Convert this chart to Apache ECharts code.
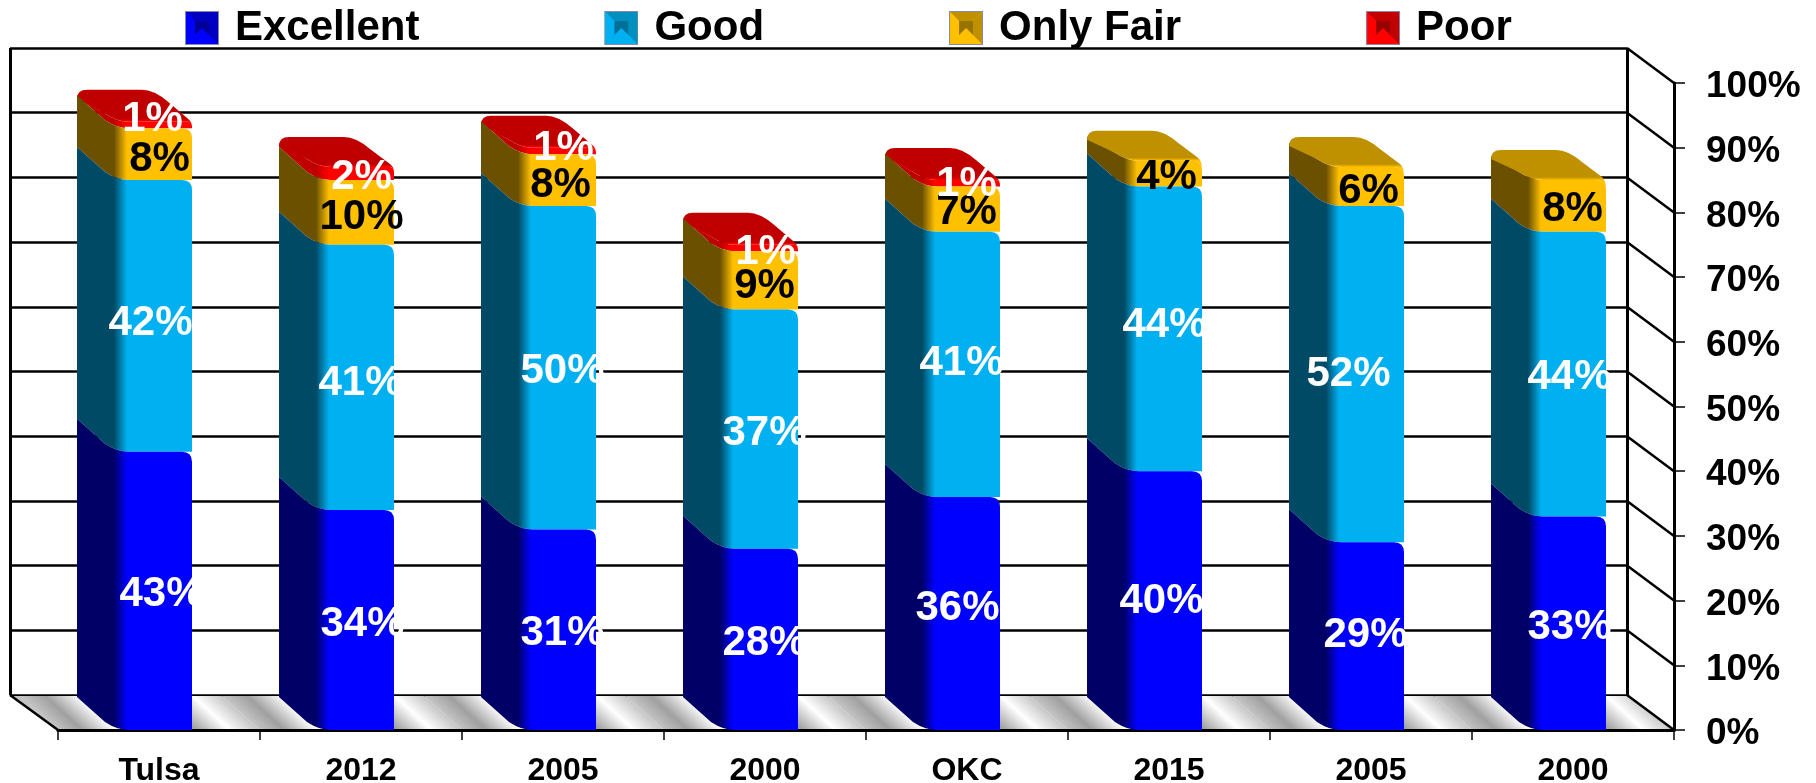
<!DOCTYPE html>
<html>
<head>
<meta charset="utf-8">
<title>Ratings</title>
<style>
  html, body { margin: 0; padding: 0; background: #fff; }
  #chart { width: 1816px; height: 783px; }
</style>
<script src="https://cdn.jsdelivr.net/npm/echarts@6/dist/echarts.min.js"></script>
</head>
<body>
<div id="chart"></div>
<script>
var categories = ["Tulsa", "2012", "2005", "2000", "OKC", "2015", "2005", "2000"];
var excellent = [43, 34, 31, 28, 36, 40, 29, 33];
var good = [42, 41, 50, 37, 41, 44, 52, 44];
var onlyFair = [8, 10, 8, 9, 7, 4, 6, 8];
var poor = [1, 2, 1, 1, 1, 0, 0, 0];
var yTicks = [0, 10, 20, 30, 40, 50, 60, 70, 80, 90, 100];

var names = ["Excellent", "Good", "Only Fair", "Poor"];
var values = [excellent, good, onlyFair, poor];

// side, front, top cap, middle of the legend square
var colors = [
  { side: "#000066", front: "#0000ff", cap: "#0000c0", mid: "#000099" },
  { side: "#004a66", front: "#00b0f0", cap: "#0090c0", mid: "#007099" },
  { side: "#6b5000", front: "#ffc000", cap: "#bf9000", mid: "#997300" },
  { side: "#c00000", front: "#ff0000", cap: "#c00000", mid: "#990000" }
];
var labelColors = ["#fff", "#fff", "#000", "#fff"];

// hand placed label nudges, the original labels are not centred
var labelDx = [
  [8, 7, 5, 5, -4, -2, 0, 2],
  [-3, 5, 5, 5, 0, 1, -17, 2],
  [6, 6, 3, 5, 5, 3, 3, 5],
  [-1, 6, 6, 6, 5, 0, 0, 0]
];
var labelDy = [
  [4, 4, 4, 4, -5, 1, -1, 4],
  [8, 6, 4, 4, -1, -3, 0, 3],
  [5, 5, 5, 6, 3, 4, 5, 3],
  [-6, 4, -3, 4, 1, 0, 0, 0]
];

// depth of the fake 3d box
var depthX = 47, depthY = 35;
var barDX = 38, barDY = 33;
var frontL = -44, frontR = 33;

var FONT = '"Liberation Sans", Arial, sans-serif';

function legendIcon(c) {
  var svg = '<svg xmlns="http://www.w3.org/2000/svg" width="34" height="34">' +
    '<rect width="34" height="34" fill="' + c.front + '"/>' +
    '<polygon points="0,0 34,0 24,10 10,10" fill="' + c.cap + '"/>' +
    '<polygon points="0,0 10,10 10,24 0,34" fill="' + c.front + '"/>' +
    '<polygon points="34,0 34,34 24,24 24,10" fill="' + c.cap + '"/>' +
    '<rect x="10" y="10" width="14" height="14" fill="' + c.mid + '"/>' +
    '<polygon points="10,24 24,24 17,17" fill="' + c.front + '"/>' +
    '<rect x="0.5" y="0.5" width="33" height="33" fill="none" stroke="#8888aa"/>' +
    '</svg>';
  return "image://data:image/svg+xml;charset=utf-8," + encodeURIComponent(svg);
}

// top edge of a segment seen from the front: side diagonal, soft corner, flat front
function contour(x0, x1, y, rounded, r) {
  var d = "M" + (x0 - barDX) + " " + (y - barDY + (rounded ? 9 : 0));
  d += "L" + (x0 - 10) + " " + (y - 8);
  d += "Q" + (x0 + 2) + " " + y + " " + (x0 + 14) + " " + y;
  d += "L" + (x1 - r) + " " + y;
  d += "Q" + x1 + " " + y + " " + x1 + " " + (y + r);
  return d;
}

function renderSegment(params, api) {
  var i = api.value(0);
  var lo = api.value(1);
  var hi = api.value(2);
  var isTop = api.value(3);
  var c = colors[params.seriesIndex - 1];
  var cx = api.coord([i, 0])[0];
  var x0 = cx + frontL;
  var x1 = cx + frontR;
  var yLo = api.coord([i, lo])[1];
  var yHi = api.coord([i, hi])[1];
  var w = x1 - x0 + barDX;
  var r = hi - lo > 2 ? 10 : 5;

  var fill = new echarts.graphic.LinearGradient(x0 - barDX, 0, x1, 0, [
    { offset: 0, color: c.side },
    { offset: (barDX - 1) / w, color: c.side },
    { offset: (barDX + 12) / w, color: c.front },
    { offset: 1, color: c.front }
  ], true);

  var body = contour(x0, x1, yHi, isTop, r);
  body += "L" + x1 + " " + yLo + "L" + (x0 + 14) + " " + yLo;
  body += "Q" + (x0 + 2) + " " + yLo + " " + (x0 - 10) + " " + (yLo - 8);
  body += "L" + (x0 - barDX) + " " + (yLo - barDY) + "Z";

  var children = [{ type: "path", shape: { pathData: body }, style: { fill: fill } }];

  if (isTop) {
    // caps of the taller top segments sit a little lower in the original
    var top = yHi - barDY + (hi - lo > 1 ? 3 : 1);
    var cap = "M" + (x0 - barDX) + " " + (top + 9);
    cap += "Q" + (x0 - barDX) + " " + top + " " + (x0 - barDX + 10) + " " + top;
    cap += "L" + (x1 - barDX - 12) + " " + top;
    cap += "Q" + (x1 - barDX) + " " + top + " " + (x1 - barDX + 14) + " " + (top + 12);
    cap += "L" + (x1 - 4) + " " + (yHi - 3);
    cap += "Q" + x1 + " " + yHi + " " + x1 + " " + (yHi + r);
    cap += "Q" + x1 + " " + yHi + " " + (x1 - r) + " " + yHi;
    cap += "L" + (x0 + 14) + " " + yHi;
    cap += "Q" + (x0 + 2) + " " + yHi + " " + (x0 - 10) + " " + (yHi - 8);
    cap += "Z";
    children.push({
      type: "path",
      shape: { pathData: cap },
      style: {
        fill: new echarts.graphic.LinearGradient(0, top, 0, yHi, [
          { offset: 0, color: c.cap },
          { offset: 0.9, color: c.cap },
          { offset: 1, color: c.front }
        ], true)
      }
    });
  }
  return { type: "group", children: children };
}

function renderFloor(params, api) {
  var i = api.value(0);
  var rect = params.coordSys;
  var step = rect.width / categories.length;
  var xs = rect.x + step * i;
  var y1 = rect.y + rect.height;
  var y0 = y1 - depthY + 1;
  var topL = i === 0 ? xs - depthX : xs - 38;
  var topR = i === categories.length - 1 ? xs + step - depthX : xs + step - 38;
  return {
    type: "polygon",
    shape: { points: [[xs, y1], [xs + step, y1], [topR, y0], [topL, y0]] },
    style: {
      fill: new echarts.graphic.LinearGradient(xs, y1, xs + step * 0.459, y1 - step * 0.4985, [
        { offset: 0, color: "#c4c4c4" },
        { offset: 0.12, color: "#a0a0a0" },
        { offset: 0.29, color: "#ffffff" },
        { offset: 0.55, color: "#ffffff" },
        { offset: 0.68, color: "#a0a0a0" },
        { offset: 0.85, color: "#ffffff" },
        { offset: 1, color: "#c4c4c4" }
      ], true)
    }
  };
}

function renderFrame(params, api) {
  var v = api.value(1);
  var rect = params.coordSys;
  var xr = rect.x + rect.width;
  var y = api.coord([0, v])[1];
  var lines = [{
    type: "line",
    shape: { x1: xr - depthX, y1: y - depthY, x2: xr, y2: y },
    style: { stroke: "#000", lineWidth: 2.5 }
  }];
  if (v === 0) {
    lines.push({
      type: "line",
      shape: { x1: rect.x - 48, y1: y - depthY, x2: rect.x, y2: y },
      style: { stroke: "#000", lineWidth: 2.5 }
    });
  }
  return { type: "group", children: lines };
}

function renderLabel(params, api) {
  var i = api.value(0);
  var s = api.value(1);
  var mid = api.value(2);
  var val = api.value(3);
  var p = api.coord([i, mid]);
  return {
    type: "text",
    style: {
      text: val + "%",
      x: p[0] + (frontL + frontR) / 2 + labelDx[s][i],
      y: p[1] + labelDy[s][i],
      fill: labelColors[s],
      font: "bold 42px " + FONT,
      align: "center",
      verticalAlign: "middle"
    }
  };
}

// stack the segments by hand, custom series have no stack option
var segmentData = [[], [], [], []];
var labelData = [];
categories.forEach(function (c, i) {
  var base = 0;
  var last = -1;
  values.forEach(function (arr, s) { if (arr[i] > 0) last = s; });
  values.forEach(function (arr, s) {
    if (arr[i] > 0) {
      segmentData[s].push([i, base, base + arr[i], s === last ? 1 : 0]);
      labelData.push([i, s, base + arr[i] / 2, arr[i]]);
      base += arr[i];
    }
  });
});

var series = [{
  type: "custom",
  name: "floor",
  z: 1,
  renderItem: renderFloor,
  data: categories.map(function (c, i) { return [i, 0]; }),
  encode: { x: 0, y: 1 },
  silent: true
}];
names.forEach(function (name, s) {
  series.push({
    type: "custom",
    name: name,
    z: 20 - s,
    itemStyle: { color: colors[s].front },
    renderItem: renderSegment,
    data: segmentData[s],
    encode: { x: 0, y: [1, 2] }
  });
});
series.push({
  type: "custom",
  name: "frame",
  z: 2,
  renderItem: renderFrame,
  data: yTicks.map(function (v) { return [0, v]; }),
  encode: { x: 0, y: 1 },
  silent: true
});
series.push({
  type: "custom",
  name: "labels",
  z: 30,
  renderItem: renderLabel,
  data: labelData,
  encode: { x: 0, y: 2 },
  silent: true
});

var chart = echarts.init(document.getElementById("chart"));
chart.setOption({
  backgroundColor: "#fff",
  animation: false,
  legend: {
    left: 185,
    top: 7,
    padding: 0,
    itemWidth: 34,
    itemHeight: 34,
    itemGap: 185,
    selectedMode: false,
    data: names.map(function (n, s) { return { name: n, icon: legendIcon(colors[s]) }; }),
    textStyle: {
      fontFamily: FONT,
      fontWeight: "bold",
      fontSize: 42,
      color: "#000",
      lineHeight: 34,
      padding: [0, 0, 0, 11]
    }
  },
  grid: [
    { left: 58, right: 142, top: 83, bottom: 53, outerBoundsMode: "none" },
    { left: 10, right: 189, top: 48, bottom: 88, outerBoundsMode: "none" }
  ],
  xAxis: [{
    type: "category",
    data: categories,
    z: 5,
    axisLine: { lineStyle: { color: "#000", width: 3 } },
    axisTick: { show: true, length: 10, lineStyle: { color: "#000", width: 1.5 } },
    axisLabel: {
      margin: 25,
      interval: 0,
      fontFamily: FONT,
      fontWeight: "bold",
      fontSize: 32,
      color: "#000"
    },
    splitLine: { show: false }
  }, {
    gridIndex: 1,
    type: "value",
    min: 0,
    max: 1,
    interval: 1,
    axisLine: { show: false },
    axisTick: { show: false },
    axisLabel: { show: false },
    splitLine: { show: true, lineStyle: { color: "#000", width: 3, type: "solid" } }
  }],
  yAxis: [{
    type: "value",
    position: "right",
    min: 0,
    max: 100,
    interval: 10,
    z: 5,
    axisLine: { show: true, lineStyle: { color: "#000", width: 3 } },
    axisTick: { show: true, length: 11, lineStyle: { color: "#000", width: 1.5 } },
    axisLabel: {
      margin: 32,
      verticalAlign: "top",
      lineHeight: 8,
      formatter: "{value}%",
      fontFamily: FONT,
      fontWeight: "bold",
      fontSize: 37,
      color: "#000"
    },
    splitLine: { show: false }
  }, {
    gridIndex: 1,
    type: "value",
    min: 0,
    max: 100,
    interval: 10,
    axisLine: { show: false },
    axisTick: { show: false },
    axisLabel: { show: false },
    splitLine: { show: true, lineStyle: { color: "#000", width: 2.5, type: "solid" } }
  }],
  series: series
});
</script>
</body>
</html>
